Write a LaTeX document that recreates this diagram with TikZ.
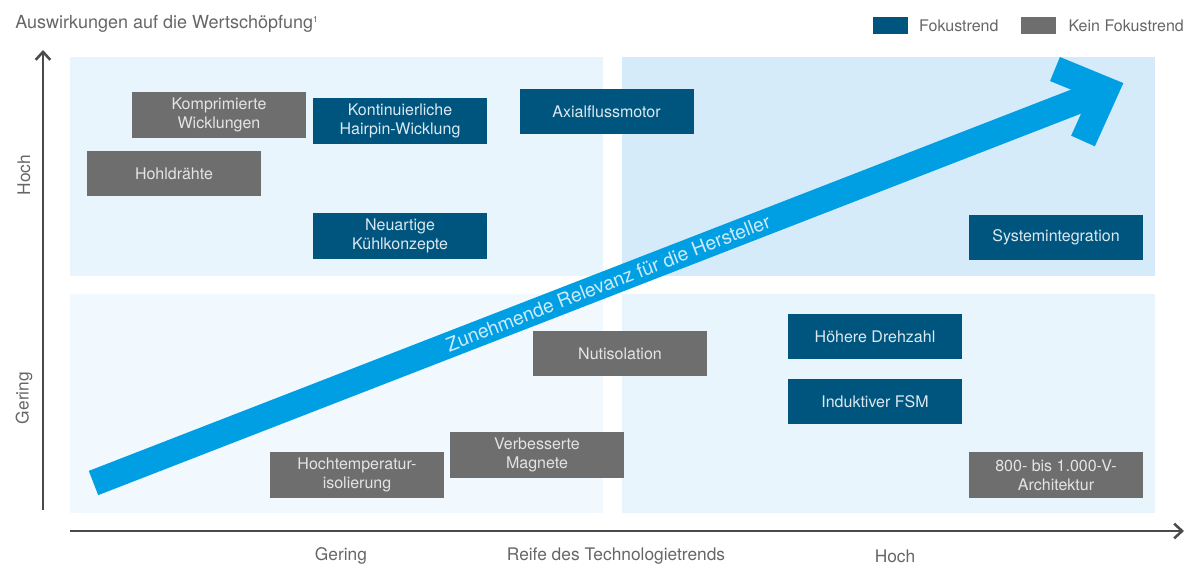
\documentclass[tikz,border=0pt]{standalone}
\usepackage{fontspec}
\setmainfont{TeX Gyre Heros}
\usepackage{xcolor}
\usetikzlibrary{arrows.meta, positioning}

\definecolor{fokusblue}{HTML}{00557F}
\definecolor{keingrey}{HTML}{6E6E6E}
\definecolor{fokustext}{HTML}{DCE8EF}
\definecolor{keintext}{HTML}{E4E4E4}
\definecolor{trendcyan}{HTML}{009FE3}
\definecolor{arrowtext}{HTML}{CDEBFA}
\definecolor{labelgrey}{HTML}{666666}
\definecolor{axisgrey}{HTML}{4A4A4A}
\definecolor{quadTL}{HTML}{E8F5FD}
\definecolor{quadTR}{HTML}{D5EBFA}
\definecolor{quadBL}{HTML}{F2F9FE}
\definecolor{quadBR}{HTML}{E8F5FD}

\begin{document}
\begin{tikzpicture}[x=0.75pt, y=-0.75pt,
    trendbox/.style={minimum width=130.5pt, minimum height=34.3pt, inner sep=0pt,
        align=center, font=\fontsize{12}{14.3}\selectfont},
    fokus/.style={trendbox, fill=fokusblue, text=fokustext},
    kein/.style={trendbox, fill=keingrey, text=keintext},
    axislabel/.style={text=labelgrey, inner sep=0pt, font=\fontsize{13}{15}\selectfont},
    legendtext/.style={text=labelgrey, inner sep=0pt, font=\fontsize{12}{14}\selectfont}]
    \useasboundingbox (0,0) rectangle (1186,565);

    % Quadrant backgrounds
    \fill[quadTL] (70,57) rectangle (603,276);
    \fill[quadTR] (622,57) rectangle (1155,276);
    \fill[quadBL] (70,294) rectangle (603,513);
    \fill[quadBR] (622,294) rectangle (1155,513);

    % Title and legend
    \node[anchor=base west, text=labelgrey, inner sep=0pt, font=\fontsize{13.5}{16}\selectfont]
        (title) at (15,28.5) {Auswirkungen auf die Wertschöpfung\raisebox{4.5pt}{\fontsize{6.5}{7}\selectfont 1}};
    \node[fill=fokusblue, minimum width=26.25pt, minimum height=12.75pt, inner sep=0pt]
        (legfokus) at (890.5,25.5) {};
    \node[legendtext, right=8pt of legfokus] (legfokustext) {Fokustrend};
    \node[fill=keingrey, minimum width=26.25pt, minimum height=12.75pt, inner sep=0pt]
        (legkein) at (1038.5,25.5) {};
    \node[legendtext, right=9pt of legkein] (legkeintext) {Kein Fokustrend};

    % Draw the axes
    \coordinate (ybottom) at (43,510);
    \coordinate (ytop) at (43,50);
    \coordinate (xleft) at (70,531);
    \coordinate (xright) at (1184,531);
    \draw[axisgrey, line width=1.9pt, -{Straight Barb[length=6pt, width=11pt]}] (ybottom) -- (ytop);
    \draw[axisgrey, line width=1.9pt, -{Straight Barb[length=6pt, width=11pt]}] (xleft) -- (xright);

    % Axis labels
    \node[axislabel, rotate=90] (yhoch) at (24,175) {Hoch};
    \node[axislabel, rotate=90] (ygering) at (24,398) {Gering};
    \node[axislabel] (xgering) at (341,556) {Gering};
    \node[axislabel] (xreife) at (616,556) {Reife des Technologietrends};
    \node[axislabel] (xhoch) at (895,556) {Hoch};

    % Relevance arrow
    \coordinate (tail) at (93.5,483);
    \coordinate (corner) at (1106,90);
    \coordinate (barbup) at (1055,69);
    \coordinate (barbdown) at (1083,141);
    \draw[trendcyan, line width=19.5pt] (tail) -- (corner);
    \draw[trendcyan, line width=19.5pt, miter limit=4] (barbup) -- (corner) -- (barbdown);
    \node[text=arrowtext, rotate=21.2, font=\fontsize{14.5}{16}\selectfont]
        (relevanz) at (608,283) {Zunehmende Relevanz für die Hersteller};

    % Trend boxes
    \node[kein] (komprimiert) at (219,115) {Komprimierte\\Wicklungen};
    \node[fokus] (hairpin) at (400,121) {Kontinuierliche\\Hairpin-Wicklung};
    \node[fokus] (axialfluss) at (606.5,111.5) {Axialflussmotor};
    \node[kein] (hohldraht) at (174,173.5) {Hohldrähte};
    \node[fokus] (kuehlung) at (400,236) {Neuartige\\Kühlkonzepte};
    \node[fokus] (system) at (1056,237.5) {Systemintegration};
    \node[kein] (nut) at (620,353.5) {Nutisolation};
    \node[fokus] (drehzahl) at (875,336.5) {Höhere Drehzahl};
    \node[fokus] (fsm) at (875,401.5) {Induktiver FSM};
    \node[kein] (magnete) at (537,455) {Verbesserte\\Magnete};
    \node[kein] (hochtemp) at (357,475) {Hochtemperatur-\\isolierung};
    \node[kein] (volt) at (1056,475) {800- bis 1.000-V-\\Architektur};
\end{tikzpicture}
\end{document}
